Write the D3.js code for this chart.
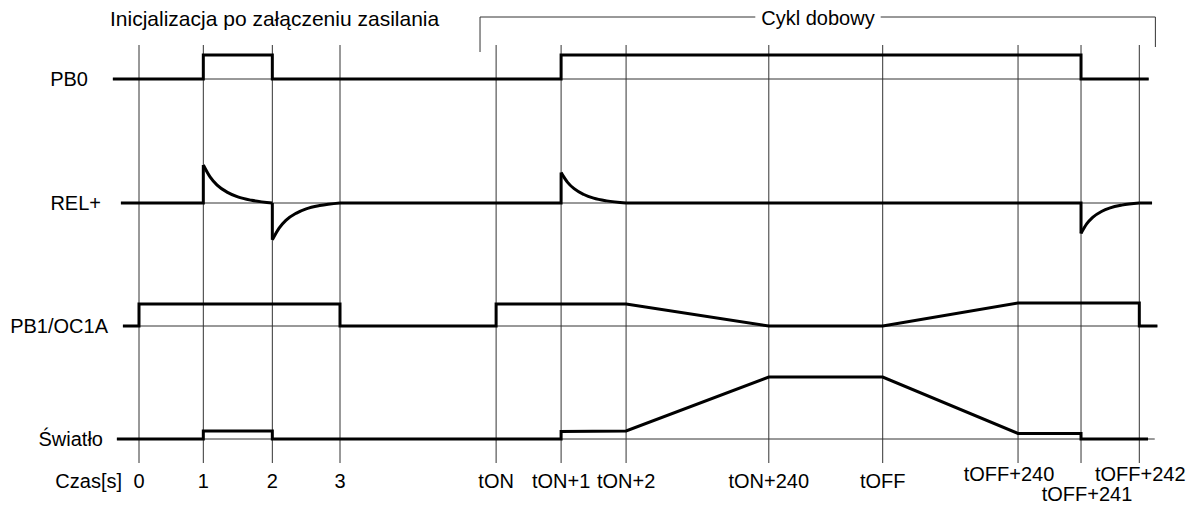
<!DOCTYPE html>
<html>
<head>
<meta charset="utf-8">
<script src="https://cdn.jsdelivr.net/npm/d3@7"></script>
<style>
  body { margin: 0; background: #fff; }
  text { font-family: "Liberation Sans", Arial, sans-serif; fill: #000; }
</style>
</head>
<body>
<div id="chart"></div>
<script>
// time axis (schematic seconds, not to scale)
var tickLabels = ["0", "1", "2", "3", "tON", "tON+1", "tON+2", "tON+240", "tOFF", "tOFF+240", "tOFF+241", "tOFF+242"];
var tickTimes  = [0, 0.96, 1.99, 3.0, 5.33, 6.3, 7.27, 9.4, 11.1, 13.12, 14.06, 14.93];

var rowNames = ["PB0", "REL+", "PB1/OC1A", "Światło"];

// signal levels: [time, level]
var pb0   = [[-0.39, 0], [0.96, 0], [0.96, 1], [1.99, 1], [1.99, 0], [6.3, 0], [6.3, 1], [14.06, 1], [14.06, 0], [15.07, 0]];
var pb1   = [[-0.24, 0], [0, 0], [0, 1], [3, 1], [3, 0], [5.33, 0], [5.33, 1], [7.27, 1], [9.4, 0], [11.1, 0], [13.12, 1.05], [14.93, 1.05], [14.93, 0], [15.2, 0]];
var light = [[-0.33, 0], [0.96, 0], [0.96, 0.13], [1.99, 0.13], [1.99, 0], [6.3, 0], [6.3, 0.12], [7.27, 0.13], [9.4, 1], [11.1, 1], [13.12, 0.09], [14.06, 0.09], [14.06, 0], [15.06, 0]];

// REL+ : flat line with decaying spikes (spike time, peak, end of decay)
var relSpan   = [-0.27, 15.12];
var relSpikes = [[0.96, 1, 1.99], [1.99, -0.97, 3.0], [6.3, 0.8, 7.27], [14.06, -0.8, 14.93]];
var decay     = [[0, 1], [0.1, 0.68], [0.2, 0.47], [0.35, 0.28], [0.5, 0.16], [0.7, 0.07], [1.0, 0]];

var lineStarts = {"PB0": -0.39, "REL+": -0.27, "PB1/OC1A": -0.24, "Światło": -0.33};
var lineEnds   = {"PB0": 15.07, "REL+": 15.12, "PB1/OC1A": 15.2, "Światło": 15.16};

var width = 1195, height = 505;

var svg = d3.select("#chart")
            .append("svg")
            .attr("width", width)
            .attr("height", height);

var x = d3.scaleLinear().domain([0, 15]).range([139, 1144]);

// baselines and amplitudes of each row
var rowBase   = d3.scaleOrdinal().domain(rowNames).range([79, 203, 326, 439]);
var rowAmp    = d3.scaleOrdinal().domain(rowNames).range([24, 38, 22, 62]);
var rowLabelX = d3.scaleOrdinal().domain(rowNames).range([88, 101, 108, 103]);

function yRow(name) {
  return d3.scaleLinear().domain([0, 1]).range([rowBase(name), rowBase(name) - rowAmp(name)]);
}

// vertical time lines
svg.append("g")
   .selectAll("line")
   .data(tickTimes)
   .join("line")
   .attr("x1", d => x(d)).attr("x2", d => x(d))
   .attr("y1", 45).attr("y2", 463)
   .attr("stroke", "#333")
   .attr("stroke-width", 1);

// thin reference lines
svg.append("g")
   .selectAll("line")
   .data(rowNames)
   .join("line")
   .attr("x1", d => x(lineStarts[d])).attr("x2", d => x(lineEnds[d]))
   .attr("y1", d => rowBase(d)).attr("y2", d => rowBase(d))
   .attr("stroke", "#333")
   .attr("stroke-width", 1);

// row labels
svg.append("g")
   .selectAll("text")
   .data(rowNames)
   .join("text")
   .attr("x", d => rowLabelX(d))
   .attr("y", d => rowBase(d) + 7)
   .attr("text-anchor", "end")
   .attr("font-size", 20)
   .text(d => d);

// digital / analog traces
function trace(name, data) {
  var y = yRow(name);
  svg.append("path")
     .datum(data)
     .attr("fill", "none")
     .attr("stroke", "#000")
     .attr("stroke-width", 3)
     .attr("d", d3.line().x(d => x(d[0])).y(d => y(d[1])));
}
trace("PB0", pb0);
trace("PB1/OC1A", pb1);
trace("Światło", light);

// REL+ trace: flat parts and spike edges
var yRel = yRow("REL+");
var relFlat = [[relSpan[0], 0]];
relSpikes.forEach(function(s) {
  relFlat.push([s[0], 0]);
  relFlat.push([s[0], s[1]]);
  relFlat.push(null);
  relFlat.push([s[2], 0]);
});
relFlat.push([relSpan[1], 0]);

svg.append("path")
   .datum(relFlat)
   .attr("fill", "none")
   .attr("stroke", "#000")
   .attr("stroke-width", 3)
   .attr("d", d3.line().defined(d => d !== null).x(d => x(d[0])).y(d => yRel(d[1])));

// decaying tails
svg.append("g")
   .selectAll("path")
   .data(relSpikes)
   .join("path")
   .attr("fill", "none")
   .attr("stroke", "#000")
   .attr("stroke-width", 3)
   .attr("d", s => d3.line().curve(d3.curveMonotoneX)
                    .x(d => x(s[0] + d[0] * (s[2] - s[0])))
                    .y(d => yRel(s[1] * d[1]))(decay));

// time tick labels
var labelDy = {"tOFF+240": -7, "tOFF+241": 13, "tOFF+242": -7};
var labelDx = {"tOFF+240": -9, "tOFF+241": 6, "tOFF+242": 1};
svg.append("g")
   .selectAll("text")
   .data(tickLabels)
   .join("text")
   .attr("x", (d, i) => x(tickTimes[i]) + (labelDx[d] || 0))
   .attr("y", d => 488 + (labelDy[d] || 0))
   .attr("text-anchor", "middle")
   .attr("font-size", 20)
   .text(d => d);

svg.append("text")
   .attr("x", 122).attr("y", 488)
   .attr("text-anchor", "end")
   .attr("font-size", 20)
   .text("Czas[s]");

// headers
svg.append("text")
   .attr("x", 110).attr("y", 26)
   .attr("font-size", 21)
   .text("Inicjalizacja po załączeniu zasilania");

var cycle = [tickTimes[4] - 0.24, 15.17];
var cycleText = svg.append("text")
   .attr("x", 818).attr("y", 25)
   .attr("text-anchor", "middle")
   .attr("font-size", 20)
   .text("Cykl dobowy");
var bb = cycleText.node().getBBox();

svg.append("path")
   .attr("fill", "none")
   .attr("stroke", "#333")
   .attr("stroke-width", 1)
   .attr("d", "M" + x(cycle[0]) + ",52V17H" + (bb.x - 6) +
              "M" + (bb.x + bb.width + 6) + ",17H" + x(cycle[1]) + "V47");
</script>
</body>
</html>
